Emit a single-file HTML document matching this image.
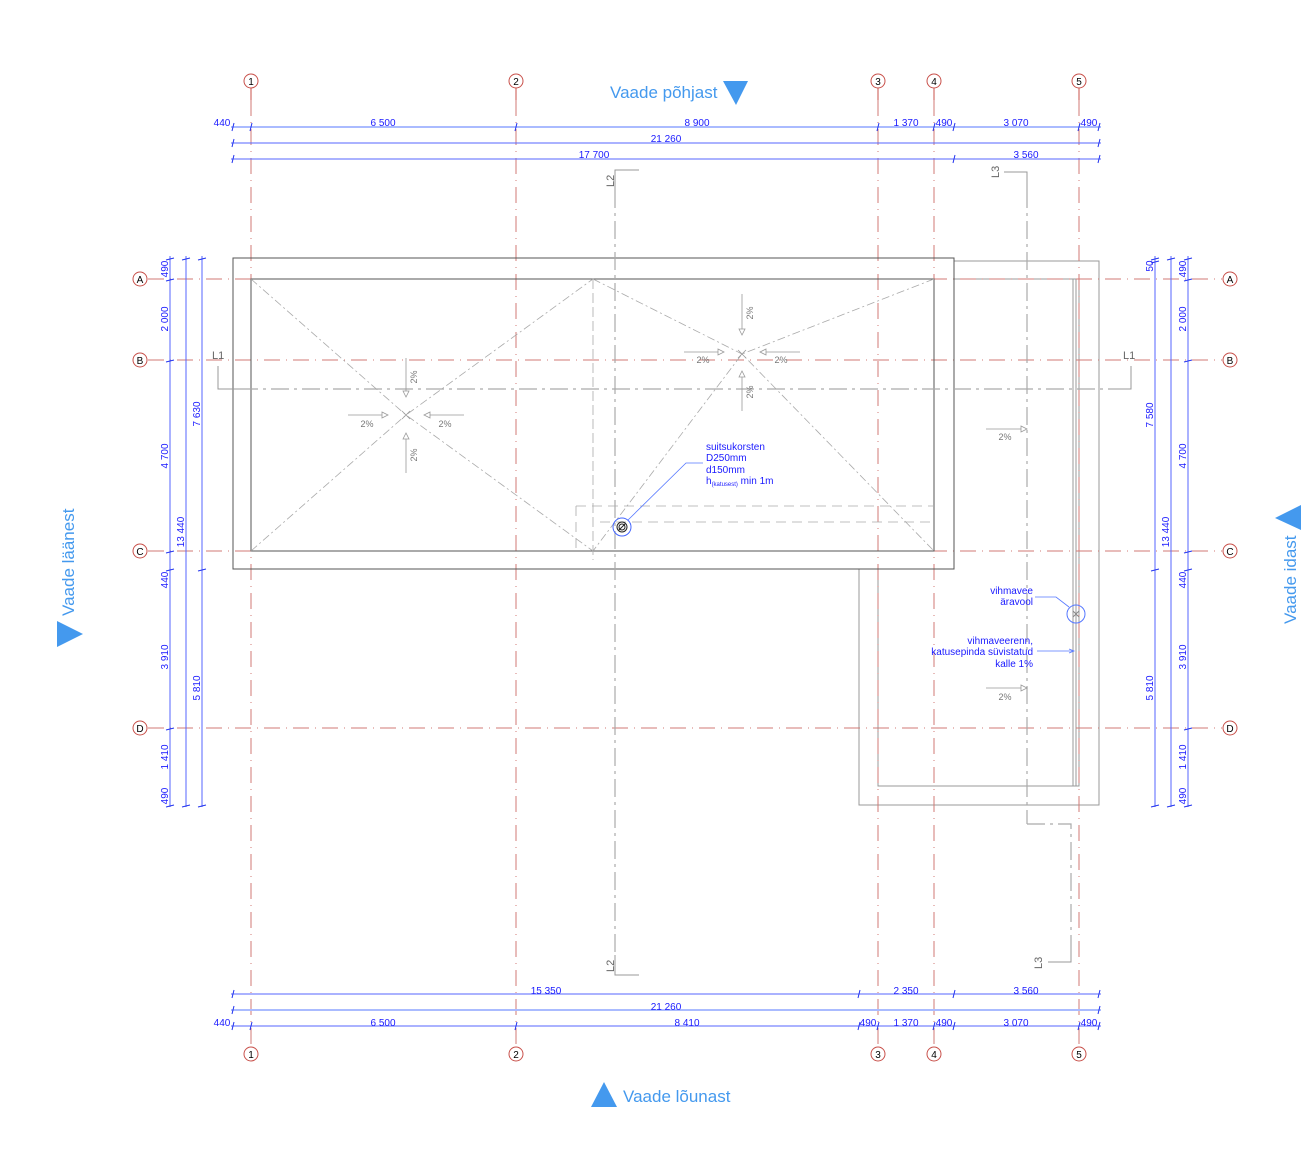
<!DOCTYPE html>
<html><head><meta charset="utf-8"><style>
html,body{margin:0;padding:0;background:#fff;}
svg{display:block;font-family:"Liberation Sans",sans-serif;}
.g{stroke:#d07a74;stroke-width:1;stroke-dasharray:16 6 1 6;fill:none}
.gs{stroke:#c8504a;stroke-width:1}
.bub{fill:#fff;stroke:#c8504a;stroke-width:1}
.bt{font-size:10px;fill:#000;text-anchor:middle}
.d{stroke:#5566ff;stroke-width:1}
.dt{font-size:10px;fill:#1a1aff;text-anchor:middle}
.w{stroke:#555;stroke-width:1;fill:none}
.wl{stroke:#999;stroke-width:1;fill:none}
.r{stroke:#aaa;stroke-width:0.8;fill:none;stroke-dasharray:8 3 2 3}
.sec{stroke:#aaa;stroke-width:1.2;fill:none;stroke-dasharray:18 5 3 5}
.p{font-size:9px;fill:#777;text-anchor:middle}
.a{stroke:#999;stroke-width:0.8;fill:none}
.v{font-size:17px;fill:#4499ee}
.n{font-size:10px;fill:#1a1aff}
.s{font-size:11px;fill:#666}
</style></head><body>
<svg width="1316" height="1176" viewBox="0 0 1316 1176" xmlns="http://www.w3.org/2000/svg">
<!-- walls -->
<rect class="wl" x="859" y="261" width="240" height="544"/>
<rect class="wl" x="878" y="279" width="201" height="507"/>
<line class="wl" x1="1073" y1="279" x2="1073" y2="786"/>
<line class="wl" x1="1076" y1="279" x2="1076" y2="786"/>
<rect x="233" y="258" width="721" height="311" fill="#fff" stroke="#555"/>
<!-- grid verticals -->
<g>
<line class="gs" x1="251" y1="88" x2="251" y2="100"/><line class="g" x1="251" y1="100" x2="251" y2="1046"/>
<line class="gs" x1="516" y1="88" x2="516" y2="100"/><line class="g" x1="516" y1="100" x2="516" y2="1046"/>
<line class="gs" x1="878" y1="88" x2="878" y2="100"/><line class="g" x1="878" y1="100" x2="878" y2="1046"/>
<line class="gs" x1="934" y1="88" x2="934" y2="100"/><line class="g" x1="934" y1="100" x2="934" y2="1046"/>
<line class="gs" x1="1079" y1="88" x2="1079" y2="100"/><line class="g" x1="1079" y1="100" x2="1079" y2="1046"/>
</g>
<g>
<line class="g" x1="148" y1="279" x2="1222" y2="279"/>
<line class="g" x1="148" y1="360" x2="1222" y2="360"/>
<line class="g" x1="148" y1="551" x2="1222" y2="551"/>
<line class="g" x1="148" y1="728" x2="1222" y2="728"/>
</g>
<!-- bubbles -->
<g>
<circle class="bub" cx="251" cy="81" r="7"/><text class="bt" x="251" y="85">1</text>
<circle class="bub" cx="516" cy="81" r="7"/><text class="bt" x="516" y="85">2</text>
<circle class="bub" cx="878" cy="81" r="7"/><text class="bt" x="878" y="85">3</text>
<circle class="bub" cx="934" cy="81" r="7"/><text class="bt" x="934" y="85">4</text>
<circle class="bub" cx="1079" cy="81" r="7"/><text class="bt" x="1079" y="85">5</text>
<circle class="bub" cx="251" cy="1054" r="7"/><text class="bt" x="251" y="1058">1</text>
<circle class="bub" cx="516" cy="1054" r="7"/><text class="bt" x="516" y="1058">2</text>
<circle class="bub" cx="878" cy="1054" r="7"/><text class="bt" x="878" y="1058">3</text>
<circle class="bub" cx="934" cy="1054" r="7"/><text class="bt" x="934" y="1058">4</text>
<circle class="bub" cx="1079" cy="1054" r="7"/><text class="bt" x="1079" y="1058">5</text>
<circle class="bub" cx="140" cy="279" r="7"/><text class="bt" x="140" y="283">A</text>
<circle class="bub" cx="140" cy="360" r="7"/><text class="bt" x="140" y="364">B</text>
<circle class="bub" cx="140" cy="551" r="7"/><text class="bt" x="140" y="555">C</text>
<circle class="bub" cx="140" cy="728" r="7"/><text class="bt" x="140" y="732">D</text>
<circle class="bub" cx="1230" cy="279" r="7"/><text class="bt" x="1230" y="283">A</text>
<circle class="bub" cx="1230" cy="360" r="7"/><text class="bt" x="1230" y="364">B</text>
<circle class="bub" cx="1230" cy="551" r="7"/><text class="bt" x="1230" y="555">C</text>
<circle class="bub" cx="1230" cy="728" r="7"/><text class="bt" x="1230" y="732">D</text>
</g>
<rect x="233" y="258" width="721" height="311" fill="none" stroke="#555"/>
<rect class="w" x="251" y="279" width="683" height="272" stroke="#4a3030"/>
<!-- roof hip lines -->
<polyline class="r" points="251,279 406,415 593,551"/>
<polyline class="r" points="251,551 406,415 593,279"/>
<polyline class="r" points="593,279 742,354 934,551"/>
<polyline class="r" points="934,279 742,354 593,551"/>
<line class="r" x1="593" y1="279" x2="593" y2="560" style="stroke-dasharray:10 4"/>
<line class="r" x1="576" y1="506" x2="934" y2="506" style="stroke-dasharray:10 6"/>
<line class="r" x1="600" y1="522" x2="934" y2="522" style="stroke-dasharray:10 6"/>
<line class="r" x1="576" y1="506" x2="576" y2="551" style="stroke-dasharray:10 6"/>
<!-- section lines -->
<polyline class="wl" points="218,366 218,389 240,389"/>
<polyline class="wl" points="1110,389 1131,389 1131,366"/>
<line class="sec" x1="240" y1="389" x2="1110" y2="389"/>
<text class="s" x="212" y="359">L1</text><text class="s" x="1123" y="359">L1</text>
<polyline points="639,170 615,170 615,190" class="wl"/>
<line class="sec" x1="615" y1="190" x2="615" y2="955"/>
<polyline points="615,955 615,975 639,975" class="wl"/>
<text class="s" transform="translate(614,187) rotate(-90)">L2</text>
<text class="s" transform="translate(614,972) rotate(-90)">L2</text>
<polyline class="wl" points="1004,172 1027,172 1027,190"/>
<line class="sec" x1="1027" y1="190" x2="1027" y2="824"/>
<polyline class="sec" points="1027,824 1071,824 1071,945" />
<polyline class="wl" points="1071,945 1071,962 1048,962"/>
<text class="s" transform="translate(999,178) rotate(-90)">L3</text>
<text class="s" transform="translate(1042,969) rotate(-90)">L3</text>
<!-- slope arrows -->
<g class="a">
<line x1="348" y1="415" x2="386" y2="415"/><path d="M382,412 L388,415 L382,418Z" fill="#fff"/>
<line x1="464" y1="415" x2="426" y2="415"/><path d="M430,412 L424,415 L430,418Z" fill="#fff"/>
<line x1="406" y1="358" x2="406" y2="395"/><path d="M403,391 L406,397 L409,391Z" fill="#fff"/>
<line x1="406" y1="473" x2="406" y2="435"/><path d="M403,439 L406,433 L409,439Z" fill="#fff"/>
<line x1="684" y1="352" x2="722" y2="352"/><path d="M718,349 L724,352 L718,355Z" fill="#fff"/>
<line x1="800" y1="352" x2="762" y2="352"/><path d="M766,349 L760,352 L766,355Z" fill="#fff"/>
<line x1="742" y1="294" x2="742" y2="333"/><path d="M739,329 L742,335 L745,329Z" fill="#fff"/>
<line x1="742" y1="411" x2="742" y2="373"/><path d="M739,377 L742,371 L745,377Z" fill="#fff"/>
<line x1="986" y1="429" x2="1025" y2="429"/><path d="M1021,426 L1027,429 L1021,432Z" fill="#fff"/>
<line x1="986" y1="688" x2="1025" y2="688"/><path d="M1021,685 L1027,688 L1021,691Z" fill="#fff"/>
<path d="M402,411 l8,8 M410,411 l-8,8 M738,350 l8,8 M746,350 l-8,8"/>
</g>
<g class="p">
<text x="367" y="427">2%</text><text x="445" y="427">2%</text>
<text transform="translate(417,377) rotate(-90)">2%</text><text transform="translate(417,455) rotate(-90)">2%</text>
<text x="703" y="363">2%</text><text x="781" y="363">2%</text>
<text transform="translate(753,313) rotate(-90)">2%</text><text transform="translate(753,392) rotate(-90)">2%</text>
<text x="1005" y="440">2%</text><text x="1005" y="700">2%</text>
</g>
<!-- chimney -->
<circle cx="622" cy="527" r="9" fill="none" stroke="#4466ff"/>
<circle cx="622" cy="527" r="5" fill="none" stroke="#222"/>
<circle cx="622" cy="527" r="3" fill="none" stroke="#222"/>
<line x1="619" y1="530" x2="625" y2="524" stroke="#222"/>
<polyline points="628,520 686,463 703,463" fill="none" stroke="#5577ff" stroke-width="0.8"/>
<text class="n" x="706" y="450">suitsukorsten</text>
<text class="n" x="706" y="461">D250mm</text>
<text class="n" x="706" y="473">d150mm</text>
<text class="n" x="706" y="484">h<tspan font-size="6" dy="2">(katusest)</tspan><tspan dy="-2"> min 1m</tspan></text>
<!-- rain -->
<circle cx="1076" cy="614" r="9" fill="none" stroke="#5577ff"/>
<path d="M1073,611 l6,6 M1079,611 l-6,6" stroke="#888"/>
<polyline points="1035,597 1056,597 1069,607" fill="none" stroke="#5577ff" stroke-width="0.8"/>
<text class="n" x="1033" y="594" text-anchor="end">vihmavee</text>
<text class="n" x="1033" y="605" text-anchor="end">äravool</text>
<text class="n" x="1033" y="644" text-anchor="end">vihmaveerenn,</text>
<text class="n" x="1033" y="655" text-anchor="end">katusepinda süvistatud</text>
<text class="n" x="1033" y="667" text-anchor="end">kalle 1%</text>
<line x1="1037" y1="651" x2="1073" y2="651" stroke="#5577ff" stroke-width="0.8"/>
<path d="M1069,649 L1074,651 L1069,653" fill="none" stroke="#5577ff" stroke-width="0.8"/>
<!-- dimension lines -->
<g class="d">
<line x1="231" y1="127" x2="1101" y2="127" stroke="#aabbff" stroke-width="2"/>
<line x1="231" y1="143" x2="1101" y2="143"/>
<line x1="231" y1="159" x2="1101" y2="159"/>
<line x1="231" y1="994" x2="1101" y2="994"/>
<line x1="231" y1="1010" x2="1101" y2="1010" stroke="#aabbff" stroke-width="2"/>
<line x1="231" y1="1026" x2="1101" y2="1026"/>
<line x1="170" y1="256" x2="170" y2="807"/>
<line x1="186" y1="256" x2="186" y2="807"/>
<line x1="202" y1="256" x2="202" y2="807"/>
<line x1="1155" y1="256" x2="1155" y2="807"/>
<line x1="1171" y1="256" x2="1171" y2="807"/>
<line x1="1188" y1="256" x2="1188" y2="807"/>
</g>
<g stroke="#2233ee" stroke-width="1">
<path d="M232,131l2,-8M250,131l2,-8M515,131l2,-8M877,131l2,-8M933,131l2,-8M953,131l2,-8M1078,131l2,-8M1098,131l2,-8"/>
<path d="M232,147l2,-8M1098,147l2,-8"/>
<path d="M232,163l2,-8M953,163l2,-8M1098,163l2,-8"/>
<path d="M232,998l2,-8M858,998l2,-8M953,998l2,-8M1098,998l2,-8"/>
<path d="M232,1014l2,-8M1098,1014l2,-8"/>
<path d="M232,1030l2,-8M250,1030l2,-8M515,1030l2,-8M858,1030l2,-8M877,1030l2,-8M933,1030l2,-8M953,1030l2,-8M1078,1030l2,-8M1098,1030l2,-8"/>
<path d="M166,260l8,-2M166,281l8,-2M166,362l8,-2M166,553l8,-2M166,571l8,-2M166,730l8,-2M166,807l8,-2"/>
<path d="M182,260l8,-2M182,807l8,-2"/>
<path d="M198,260l8,-2M198,571l8,-2M198,807l8,-2"/>
<path d="M1151,260l8,-2M1151,263l8,-2M1151,571l8,-2M1151,807l8,-2"/>
<path d="M1167,260l8,-2M1167,807l8,-2"/>
<path d="M1184,260l8,-2M1184,281l8,-2M1184,362l8,-2M1184,553l8,-2M1184,571l8,-2M1184,730l8,-2M1184,807l8,-2"/>
</g>
<g class="dt">
<text x="222" y="126">440</text><text x="383" y="126">6 500</text><text x="697" y="126">8 900</text><text x="906" y="126">1 370</text><text x="944" y="126">490</text><text x="1016" y="126">3 070</text><text x="1089" y="126">490</text>
<text x="666" y="142">21 260</text>
<text x="594" y="158">17 700</text><text x="1026" y="158">3 560</text>
<text x="546" y="994">15 350</text><text x="906" y="994">2 350</text><text x="1026" y="994">3 560</text>
<text x="666" y="1010">21 260</text>
<text x="222" y="1026">440</text><text x="383" y="1026">6 500</text><text x="687" y="1026">8 410</text><text x="868" y="1026">490</text><text x="906" y="1026">1 370</text><text x="944" y="1026">490</text><text x="1016" y="1026">3 070</text><text x="1089" y="1026">490</text>
<text transform="translate(168,269) rotate(-90)">490</text>
<text transform="translate(168,319) rotate(-90)">2 000</text>
<text transform="translate(168,456) rotate(-90)">4 700</text>
<text transform="translate(168,580) rotate(-90)">440</text>
<text transform="translate(168,657) rotate(-90)">3 910</text>
<text transform="translate(168,757) rotate(-90)">1 410</text>
<text transform="translate(168,796) rotate(-90)">490</text>
<text transform="translate(184,532) rotate(-90)">13 440</text>
<text transform="translate(200,414) rotate(-90)">7 630</text>
<text transform="translate(200,688) rotate(-90)">5 810</text>
<text transform="translate(1153,266) rotate(-90)">50</text>
<text transform="translate(1153,415) rotate(-90)">7 580</text>
<text transform="translate(1153,688) rotate(-90)">5 810</text>
<text transform="translate(1169,532) rotate(-90)">13 440</text>
<text transform="translate(1186,269) rotate(-90)">490</text>
<text transform="translate(1186,319) rotate(-90)">2 000</text>
<text transform="translate(1186,456) rotate(-90)">4 700</text>
<text transform="translate(1186,580) rotate(-90)">440</text>
<text transform="translate(1186,657) rotate(-90)">3 910</text>
<text transform="translate(1186,757) rotate(-90)">1 410</text>
<text transform="translate(1186,796) rotate(-90)">490</text>
</g>
<!-- view labels -->
<text class="v" x="610" y="98">Vaade põhjast</text>
<path d="M723,81 L748,81 L736,105Z" fill="#4499ee"/>
<text class="v" x="623" y="1102">Vaade lõunast</text>
<path d="M591,1107 L617,1107 L604,1082Z" fill="#4499ee"/>
<text class="v" transform="translate(74,616) rotate(-90)">Vaade läänest</text>
<path d="M57,621 L57,647 L83,634Z" fill="#4499ee"/>
<text class="v" transform="translate(1296,624) rotate(-90)">Vaade idast</text>
<path d="M1301,505 L1301,530 L1275,518Z" fill="#4499ee"/>
</svg>
</body></html>
